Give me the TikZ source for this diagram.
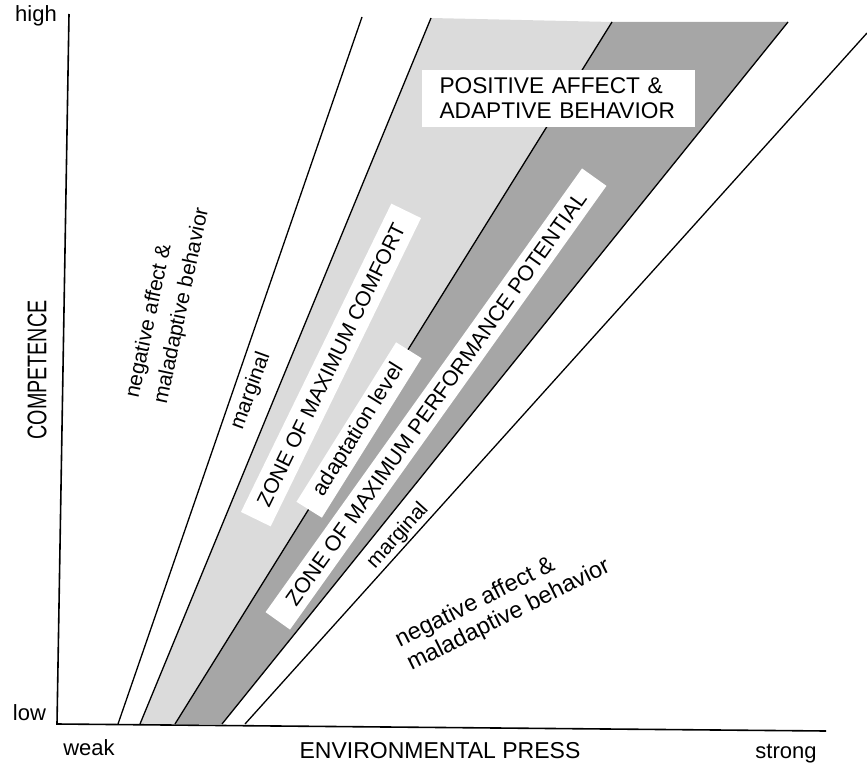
\documentclass[tikz,border=0pt]{standalone}
\usepackage{fontspec}
\setmainfont{Liberation Sans}
\newcommand{\fs}[1]{\fontsize{#1}{#1}\selectfont}
\definecolor{zonelight}{gray}{0.86}
\definecolor{zonedark}{gray}{0.65}
\begin{document}
\begin{tikzpicture}[x=1pt,y=-1pt,
  bound/.style={line width=1.3pt, black},
  axisline/.style={line width=1.6pt, black},
  wbox/.style={fill=white, inner sep=0pt, text=black},
  lbl/.style={text=black, inner sep=0pt}]
\useasboundingbox (0,0) rectangle (867,765);
% coordinates
\coordinate (O) at (57,724);
\coordinate (Ytop) at (69,14);
\coordinate (Xend) at (826,731);
\coordinate (L1b) at (118,724); \coordinate (L1t) at (362,17);
\coordinate (L2b) at (140,724); \coordinate (L2t) at (431,18);
\coordinate (L3b) at (175,724); \coordinate (L3t) at (612,22);
\coordinate (L4b) at (222,724); \coordinate (L4t) at (788,22);
\coordinate (L5b) at (245,724); \coordinate (L5t) at (867,33);
% zones
\fill[zonelight] (L2b) -- (L2t) -- (L3t) -- (L3b) -- cycle;
\fill[zonedark] (L3b) -- (L3t) -- (L4t) -- (L4b) -- cycle;
% boundary lines
\draw[bound] (L1b) -- (L1t);
\draw[bound] (L2b) -- (L2t);
\draw[bound] (L3b) -- (L3t);
\draw[bound] (L4b) -- (L4t);
\draw[bound] (L5b) -- (L5t);
% axes
\draw[axisline] (Ytop) -- (O) -- (Xend);
% white label boxes
\node[wbox, font={\fontsize{22.7}{25}\selectfont}, text width=237pt, align=left,
      minimum width=273pt, minimum height=57pt, inner xsep=18pt] (pos) at (558,98.5)
      {POSITIVE AFFECT \&\\ADAPTIVE BEHAVIOR};
\node[wbox, font=\fs{21}, minimum width=343pt, minimum height=33pt, rotate=64] (comfort)
      at (331,365) {ZONE OF MAXIMUM COMFORT};
\node[wbox, font=\fs{21.7}, minimum width=188pt, minimum height=30pt, rotate=58] (adapt)
      at (359,430) {adaptation level};
\node[wbox, font=\fs{21.4}, minimum width=545pt, minimum height=30pt, rotate=54.5] (perf)
      at (436,399) {ZONE OF MAXIMUM PERFORMANCE POTENTIAL};
% axis labels
\node[lbl, font=\fs{22}, anchor=base] (high) at (36,22) {high};
\node[lbl, font=\fs{22}, anchor=base] (low) at (29.5,720) {low};
\node[lbl, font=\fs{22}, anchor=base] (weak) at (89,755) {weak};
\node[lbl, font=\fs{23}, anchor=base] (press) at (440,758) {ENVIRONMENTAL PRESS};
\node[lbl, font=\fs{22}, anchor=base] (strong) at (786,758) {strong};
\node[lbl, font=\fs{27}, rotate=90] (comp) at (37,370) {\scalebox{0.73}[1]{COMPETENCE}};
% region labels
\node[lbl, align=left, rotate=78, font={\fontsize{21}{29}\selectfont}] (negleft)
      at (168,303) {negative affect \&\\maladaptive behavior};
\node[lbl, font=\fs{21}, rotate=70] (margleft) at (251,391) {marginal};
\node[lbl, font=\fs{21}, rotate=48] (margright) at (398,536) {marginal};
\node[lbl, align=left, rotate=26.5, font={\fontsize{23.5}{26}\selectfont}] (negright)
      at (503,604) {negative affect \&\\maladaptive behavior};
\end{tikzpicture}
\end{document}
